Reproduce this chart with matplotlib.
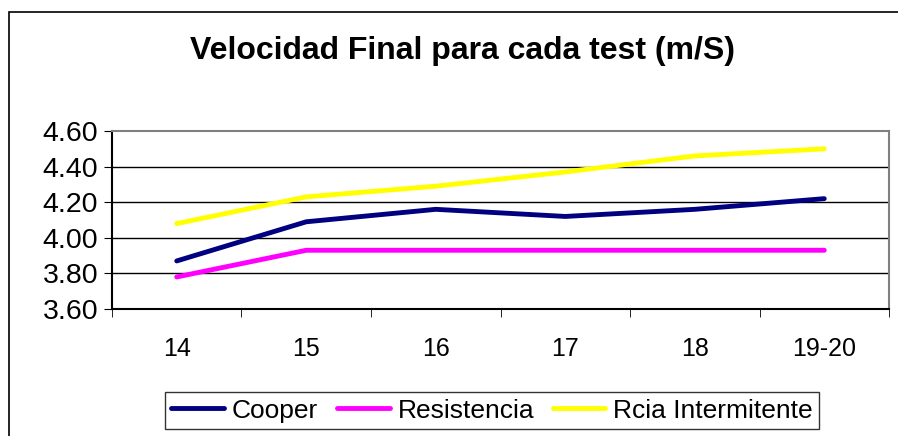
import matplotlib.pyplot as plt
from matplotlib.patches import Rectangle

plt.rcParams['font.family'] = ['Liberation Sans', 'DejaVu Sans']

categories = ["14", "15", "16", "17", "18", "19-20"]
cooper = [3.87, 4.09, 4.16, 4.12, 4.16, 4.22]
resistencia = [3.78, 3.93, 3.93, 3.93, 3.93, 3.93]
intermitente = [4.08, 4.23, 4.29, 4.37, 4.46, 4.50]
y_ticks = [3.60, 3.80, 4.00, 4.20, 4.40, 4.60]

fig = plt.figure(figsize=(8.98, 4.36), dpi=100)
fig.patches.append(Rectangle((0.0095, -0.1), 1.2, 1.073, transform=fig.transFigure,
                             fill=False, edgecolor='black', linewidth=1.2, zorder=0))

ax = fig.add_axes([0.1247, 0.2913, 0.8653, 0.4082])
x = list(range(len(categories)))
ax.plot(x, cooper, color='#000080', linewidth=3.5, label='Cooper', solid_capstyle='round')
ax.plot(x, resistencia, color='#FF00FF', linewidth=3.5, label='Resistencia', solid_capstyle='round')
ax.plot(x, intermitente, color='#FFFF00', linewidth=3.5, label='Rcia Intermitente', solid_capstyle='round')

ax.set_xlim(-0.5, len(categories) - 0.5)
ax.set_ylim(3.60, 4.60)
ax.set_yticks(y_ticks)
ax.set_yticklabels([f"{v:.2f}" for v in y_ticks], fontsize=20.5)
ax.set_xticks(x)
ax.set_xticklabels(categories, fontsize=18)
ax.tick_params(axis='x', length=0, pad=20)
ax.set_xticks([i - 0.5 for i in range(len(categories) + 1)], minor=True)
ax.tick_params(axis='x', which='minor', length=6, direction='out', color='black')
ax.tick_params(axis='y', length=6, direction='out', pad=4)
for v in y_ticks[1:-1]:
    ax.axhline(v, color='black', linewidth=1.0, zorder=0)

ax.spines['left'].set_color('black')
ax.spines['bottom'].set_color('black')
ax.spines['top'].set_color('#808080')
ax.spines['right'].set_color('#808080')
for s in ax.spines.values():
    s.set_linewidth(1.5)

fig.text(0.515, 0.884, "Velocidad Final para cada test (m/S)", ha='center', va='center',
         fontsize=23, fontweight='bold')

leg = fig.legend(loc='center', bbox_to_anchor=(0.548, 0.058), ncol=3, fontsize=19,
                 frameon=True, fancybox=False, edgecolor='black', handlelength=2.0,
                 handletextpad=0.3, columnspacing=0.7, borderpad=0.25)
leg.get_frame().set_linewidth(1.0)

fig.savefig("out.png", dpi=100)
